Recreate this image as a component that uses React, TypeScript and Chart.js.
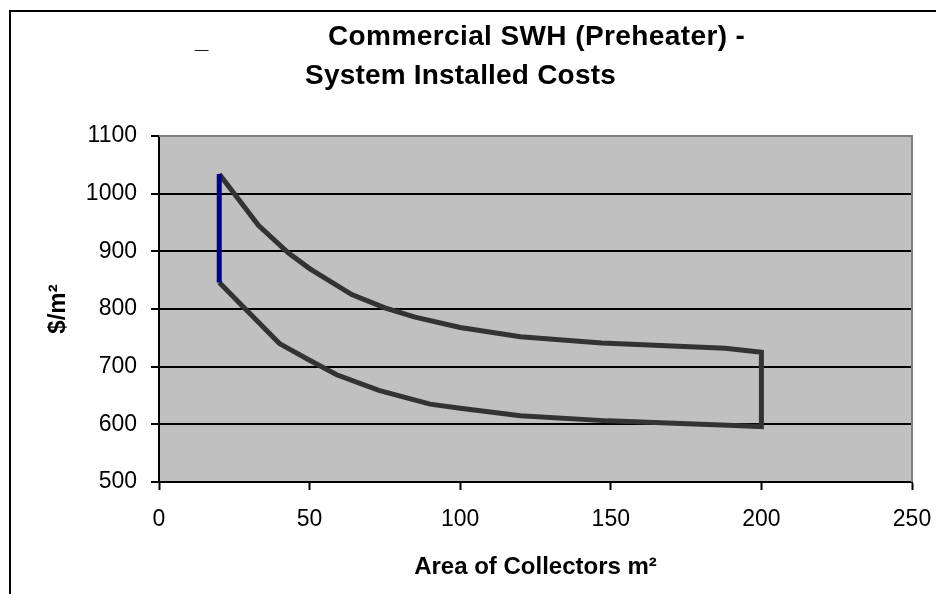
import React, { useEffect, useRef } from "react";
import { Chart, registerables } from "chart.js";

Chart.register(...registerables);

const titleLines = ["Commercial SWH (Preheater) -", "System Installed Costs"];
const xAxisTitle = "Area of Collectors m²";
const yAxisTitle = "$/m²";

const upperX = [20, 33, 43, 50, 64, 75, 85, 100, 120, 147, 188, 200];
const upperY = [1034, 945, 897, 870, 825, 802, 786, 768, 752, 741, 732, 725];
const lowerX = [20, 40, 50, 59, 73, 90, 100, 120, 149, 191, 200];
const lowerY = [846, 740, 711, 686, 659, 635, 628, 615, 606, 598, 596];

const xMin = 0, xMax = 250, xStep = 50;
const yMin = 500, yMax = 1100, yStep = 100;

const FONT = "'Liberation Sans', Arial, sans-serif";

export default function App() {
  const ref = useRef<HTMLCanvasElement>(null);
  useEffect(() => {
    const canvas = ref.current!;
    const outline = [
      ...upperX.map((x, i) => ({ x, y: upperY[i] })),
      ...lowerX.map((x, i) => ({ x, y: lowerY[i] })).reverse(),
    ];
    const leftEdge = [
      { x: upperX[0], y: upperY[0] },
      { x: lowerX[0], y: lowerY[0] },
    ];
    const decor = {
      id: "decor",
      beforeDraw(chart: any) {
        const { ctx, chartArea: a } = chart;
        ctx.save();
        ctx.fillStyle = "#ffffff";
        ctx.fillRect(0, 0, chart.width, chart.height);
        ctx.fillStyle = "#C0C0C0";
        ctx.fillRect(a.left, a.top, a.right - a.left, a.bottom - a.top);
        // frame
        ctx.strokeStyle = "#000";
        ctx.lineWidth = 2;
        ctx.beginPath();
        ctx.moveTo(10, chart.height);
        ctx.lineTo(10, 11);
        ctx.lineTo(chart.width, 11);
        ctx.stroke();
        // title
        ctx.fillStyle = "#000";
        ctx.font = `bold 28px ${FONT}`;
        ctx.textAlign = "left";
        ctx.textBaseline = "alphabetic";
        try { (ctx as any).letterSpacing = "0.4px"; } catch (e) {}
        ctx.fillText(titleLines[0], 328, 45);
        try { (ctx as any).letterSpacing = "0.2px"; } catch (e) {}
        ctx.fillText(titleLines[1], 305, 84);
        try { (ctx as any).letterSpacing = "0px"; } catch (e) {}
        ctx.font = `bold 24px ${FONT}`;
        ctx.fillText("_", 195, 48);
        ctx.restore();
      },
      afterDatasetsDraw(chart: any) {
        const { ctx, chartArea: a } = chart;
        ctx.save();
        ctx.strokeStyle = "#808080";
        ctx.lineWidth = 2;
        ctx.beginPath();
        ctx.moveTo(a.left, a.top);
        ctx.lineTo(a.right, a.top);
        ctx.lineTo(a.right, a.bottom);
        ctx.stroke();
        ctx.restore();
      },
    };
    const chart = new Chart(canvas, {
      type: "line",
      data: {
        datasets: [
          {
            data: leftEdge,
            borderColor: "#000080",
            borderWidth: 5,
            pointRadius: 0,
            tension: 0,
            borderCapStyle: "butt",
          },
          {
            data: outline,
            borderColor: "#333333",
            borderWidth: 5,
            pointRadius: 0,
            tension: 0,
            borderJoinStyle: "miter",
            borderCapStyle: "butt",
          },
        ],
      },
      options: {
        animation: false,
        responsive: false,
        devicePixelRatio: 1,
        layout: { padding: { top: 136, right: 24, left: 0, bottom: 0 } },
        plugins: { legend: { display: false }, title: { display: false }, tooltip: { enabled: false } },
        scales: {
          x: {
            type: "linear",
            min: xMin,
            max: xMax,
            ticks: { stepSize: xStep, color: "#000", font: { family: FONT, size: 23 }, padding: 16, maxRotation: 0, callback: (v: any) => String(v) },
            grid: { drawOnChartArea: false, drawTicks: true, tickLength: 8, tickColor: "#000", tickWidth: 2 },
            border: { color: "#000", width: 2 },
            title: { display: true, text: xAxisTitle, color: "#000", font: { family: FONT, size: 24, weight: "bold" }, padding: { top: 0, bottom: 12 } },
            afterFit(s: any) { s.height = 112; s.paddingLeft = 0; s.paddingRight = 0; },
          },
          y: {
            type: "linear",
            min: yMin,
            max: yMax,
            ticks: { stepSize: yStep, color: "#000", font: { family: FONT, size: 23 }, padding: 14, callback: (v: any) => String(v) },
            grid: {
              color: (c: any) => (c.tick && c.tick.value === yMax ? "rgba(0,0,0,0)" : "#000"),
              lineWidth: 2,
              tickLength: 8,
              tickColor: "#000",
              tickWidth: 2,
            },
            border: { color: "#000", width: 2 },
            title: { display: true, text: yAxisTitle, color: "#000", font: { family: FONT, size: 24, weight: "bold" }, padding: { top: 44, bottom: 0 } },
            afterFit(s: any) { s.width = 159; s.paddingTop = 0; s.paddingBottom = 0; },
          },
        },
      },
      plugins: [decor],
    });
    return () => chart.destroy();
  }, []);
  return (
    <canvas
      ref={ref}
      width={936}
      height={594}
      style={{ display: "block", position: "fixed", left: 0, top: 0, width: 936, height: 594 }}
    />
  );
}
